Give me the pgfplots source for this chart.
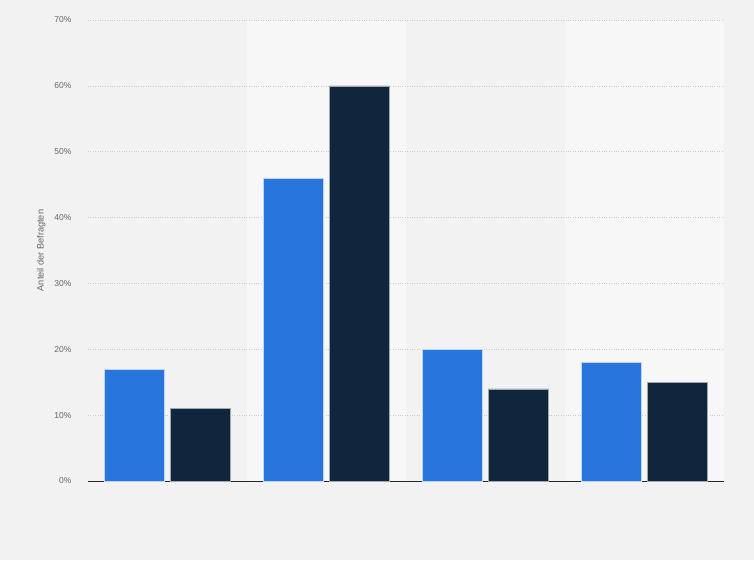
\documentclass[border=0pt]{standalone}
\usepackage{pgfplots}
\pgfplotsset{compat=1.18}
\usepackage{fontspec}
\setmainfont{Liberation Sans}
\definecolor{bg}{HTML}{F2F2F2}
\definecolor{band}{HTML}{F7F7F7}
\definecolor{cblue}{HTML}{2876DD}
\definecolor{cdark}{HTML}{10263D}
\definecolor{tick}{HTML}{666666}
\begin{document}
\begin{tikzpicture}[x=1pt,y=1pt]
\begin{axis}[
  set layers=standard,
  at={(88pt,79pt)}, anchor=south west,
  scale only axis, width=636pt, height=461pt,
  xmin=-0.5, xmax=3.5, ymin=0, ymax=70,
  ytick={0,10,...,70},
  yticklabel={\pgfmathprintnumber{\tick}\%},
  /pgf/number format/assume math mode=true,
  xtick=\empty,
  axis x line*=bottom, axis y line*=left,
  y axis line style={draw=none},
  x axis line style={draw=black!85, line width=0.9pt, -},
  major tick length=0pt,
  ymajorgrids, grid style={dotted, draw=black!20, line width=0.6pt},
  yticklabel style={font=\fontsize{8.5}{10}\selectfont, text=tick},
  y tick label style={xshift=-13pt},
  every axis y label/.style={at={(ticklabel cs:0.5)}, rotate=90, anchor=center, yshift=10pt, font=\fontsize{9.2}{10}\selectfont, text=tick},
  ylabel={Anteil der Befragten},
  ybar, bar width=60pt,
  clip=false,
]
\begin{pgfonlayer}{axis background}
\fill[bg] ([xshift=-88pt,yshift=-79pt]rel axis cs:0,0) rectangle ([xshift=666pt,yshift=481pt]rel axis cs:0,0);
\fill[band] (axis cs:0.5,0) rectangle (axis cs:1.5,70);
\fill[band] (axis cs:2.5,0) rectangle (axis cs:3.5,70);
\end{pgfonlayer}
\addplot[fill=cblue, draw=white!70!cblue, line width=0.4pt, bar shift=-33pt] coordinates {(0,17) (1,46) (2,20) (3,18)};
\addplot[fill=cdark, draw=white!60!cdark, line width=0.4pt, bar shift=33pt] coordinates {(0,11) (1,60) (2,14) (3,15)};
\end{axis}
\end{tikzpicture}
\end{document}
